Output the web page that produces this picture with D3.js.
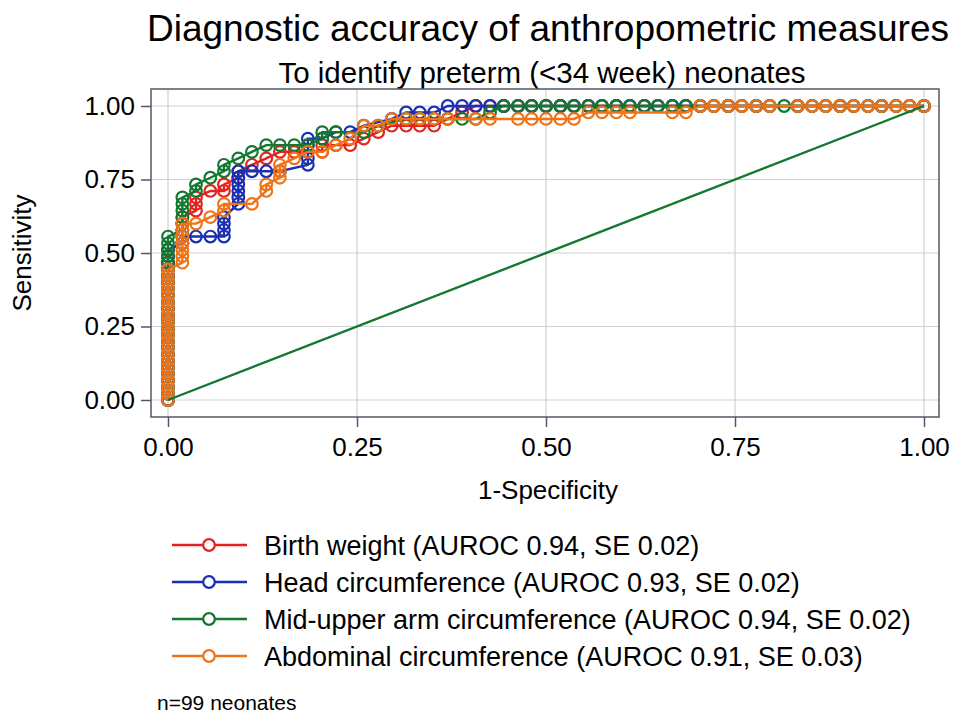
<!DOCTYPE html>
<html>
<head>
<meta charset="utf-8">
<script src="https://cdn.jsdelivr.net/npm/d3@7"></script>
<style>
  body { margin: 0; background: #fff; }
  svg { font-family: "Liberation Sans", Arial, sans-serif; }
</style>
</head>
<body>
<svg id="chart" width="957" height="717"></svg>
<script>
// ROC points [1-specificity, sensitivity]
const birthWeight = [
  [0,0],[0,.022],[0,.044],[0,.067],[0,.089],[0,.111],[0,.133],[0,.156],[0,.178],[0,.2],[0,.222],[0,.244],[0,.267],
  [0,.289],[0,.311],[0,.333],[0,.356],[0,.378],[0,.4],[0,.422],[0,.444],[0,.467],[0,.489],[0,.511],
  [.019,.533],[.019,.556],[.019,.578],[.019,.6],[.019,.622],[.037,.644],[.037,.667],[.037,.689],[.056,.711],
  [.074,.711],[.074,.733],[.093,.756],[.093,.778],[.111,.8],[.130,.822],[.148,.844],[.167,.844],[.185,.844],
  [.204,.844],[.204,.867],[.222,.867],[.241,.867],[.259,.889],[.278,.911],[.296,.933],[.315,.933],[.333,.933],
  [.352,.933],[.370,.956],[.389,.978],[.407,1],[.426,1],[.444,1],[.463,1],[.481,1],[.5,1],[.519,1],[.537,1],
  [.556,1],[.574,1],[.593,1],[.611,1],[.630,1],[.648,1],[.667,1],[.685,1],[.704,1],[.722,1],[.741,1],[.759,1],
  [.778,1],[.796,1],[.833,1],[.852,1],[.870,1],[.889,1],[.907,1],[.926,1],[.944,1],[.963,1],[.981,1],[1,1]
];
const headCirc = [
  [0,0],[0,.022],[0,.044],[0,.067],[0,.089],[0,.111],[0,.133],[0,.156],[0,.178],[0,.2],[0,.222],[0,.244],[0,.267],
  [0,.289],[0,.311],[0,.333],[0,.356],[0,.378],[0,.4],[0,.422],[0,.444],[0,.467],[0,.489],[0,.511],
  [.019,.533],[.019,.556],[.037,.556],[.056,.556],[.074,.556],[.074,.578],[.074,.6],[.074,.622],
  [.093,.667],[.093,.689],[.093,.711],[.093,.733],[.093,.756],[.093,.778],[.111,.778],[.130,.778],[.148,.778],
  [.185,.8],[.185,.822],[.185,.844],[.185,.867],[.185,.889],[.204,.889],[.222,.911],[.241,.911],[.259,.933],
  [.296,.956],[.315,.978],[.333,.978],[.352,.978],[.370,1],[.389,1],[.407,1],[.426,1],[.444,1],[.463,1],[.481,1],
  [.5,1],[.519,1],[.537,1],[.556,1],[.574,1],[.593,1],[.611,1],[.630,1],[.648,1],[.667,1],[.685,1],[.704,1],
  [.741,1],[.778,1],[.833,1],[.889,1],[.944,1],[1,1]
];
const muac = [
  [0,0],[0,.022],[0,.044],[0,.067],[0,.089],[0,.111],[0,.133],[0,.156],[0,.178],[0,.2],[0,.222],[0,.244],[0,.267],
  [0,.289],[0,.311],[0,.333],[0,.356],[0,.378],[0,.4],[0,.422],[0,.444],[0,.467],[0,.489],[0,.511],[0,.533],[0,.556],
  [.019,.578],[.019,.6],[.019,.622],[.019,.644],[.019,.667],[.019,.689],[.037,.711],[.037,.733],[.056,.756],
  [.074,.778],[.074,.8],[.093,.822],[.111,.844],[.130,.867],[.148,.867],[.167,.867],[.185,.867],[.204,.889],
  [.204,.911],[.222,.911],[.259,.911],[.278,.933],[.315,.956],[.333,.956],[.352,.956],[.370,.956],[.389,.956],
  [.407,.956],[.426,.978],[.444,1],[.463,1],[.481,1],[.5,1],[.519,1],[.537,1],[.556,1],[.574,1],[.593,1],
  [.611,1],[.630,1],[.648,1],[.667,1],[.685,1],[.704,1],[.722,1],[.741,1],[.759,1],[.778,1],[.796,1],[.815,1],
  [.833,1],[.852,1],[.870,1],[.889,1],[.907,1],[.926,1],[.944,1],[.963,1],[.981,1],[1,1]
];
const abdominal = [
  [0,0],[0,.022],[0,.044],[0,.067],[0,.089],[0,.111],[0,.133],[0,.156],[0,.178],[0,.2],[0,.222],[0,.244],[0,.267],
  [0,.289],[0,.311],[0,.333],[0,.356],[0,.378],[0,.4],[0,.422],[0,.444],
  [.019,.467],[.019,.489],[.019,.511],[.019,.533],[.019,.556],[.019,.578],[.019,.6],[.037,.6],[.056,.622],
  [.074,.644],[.074,.667],[.111,.667],[.130,.711],[.130,.733],[.148,.756],[.148,.778],[.148,.8],[.167,.822],
  [.185,.844],[.204,.844],[.222,.867],[.241,.889],[.259,.933],[.278,.933],[.296,.956],[.315,.956],[.333,.956],
  [.352,.956],[.370,.956],[.407,.956],[.426,.956],[.463,.956],[.481,.956],[.5,.956],[.519,.956],[.537,.956],
  [.556,.978],[.574,.978],[.593,.978],[.611,.978],[.667,.978],[.685,.978],[.704,1],[.722,1],[.741,1],[.759,1],
  [.778,1],[.796,1],[.833,1],[.852,1],[.870,1],[.889,1],[.907,1],[.926,1],[.944,1],[.963,1],[.981,1],[1,1]
];
const reference = [[0,0],[1,1]];

const seriesNames = [
  "Birth weight (AUROC 0.94, SE 0.02)",
  "Head circumference (AUROC 0.93, SE 0.02)",
  "Mid-upper arm circumference (AUROC 0.94, SE 0.02)",
  "Abdominal circumference (AUROC 0.91, SE 0.03)"
];
const seriesData = [birthWeight, headCirc, muac, abdominal];
const seriesColors = ["#e3231f", "#1a2fb4", "#12782f", "#ef7317"];
const ticks = [0, 0.25, 0.5, 0.75, 1];

const svg = d3.select("#chart");
const frame = {left: 151, right: 939, top: 89, bottom: 417};

const x = d3.scaleLinear().domain([0, 1]).range([168, 924]);
const y = d3.scaleLinear().domain([0, 1]).range([400, 106]);

// titles
svg.append("text").attr("x", 548).attr("y", 41).attr("text-anchor", "middle")
   .style("font-size", "37px").attr("fill", "#000")
   .text("Diagnostic accuracy of anthropometric measures");
svg.append("text").attr("x", 542).attr("y", 83).attr("text-anchor", "middle")
   .style("font-size", "29.5px").attr("fill", "#000")
   .text("To identify preterm (<34 week) neonates");

// grid
const grid = svg.append("g").attr("stroke", "#d0d0d0").attr("stroke-width", 1.2);
ticks.forEach(t => {
  grid.append("line").attr("x1", x(t)).attr("x2", x(t)).attr("y1", frame.top).attr("y2", frame.bottom);
  grid.append("line").attr("x1", frame.left).attr("x2", frame.right).attr("y1", y(t)).attr("y2", y(t));
});

// axes
const fmt = d3.format(".2f");
const xAxis = svg.append("g").attr("transform", `translate(0,${frame.bottom})`)
  .call(d3.axisBottom(x).tickValues(ticks).tickFormat(fmt).tickSize(10).tickPadding(11));
const yAxis = svg.append("g").attr("transform", `translate(${frame.left},0)`)
  .call(d3.axisLeft(y).tickValues(ticks).tickFormat(fmt).tickSize(10).tickPadding(6));
[xAxis, yAxis].forEach(a => {
  a.select(".domain").remove();
  a.selectAll(".tick line").attr("stroke", "#505a66").attr("stroke-width", 1.5);
  a.selectAll(".tick text").style("font-size", "26px").attr("fill", "#000")
   .style("font-family", "'Liberation Sans', Arial, sans-serif");
});

svg.append("rect").attr("x", frame.left).attr("y", frame.top)
   .attr("width", frame.right - frame.left).attr("height", frame.bottom - frame.top)
   .attr("fill", "none").attr("stroke", "#505a66").attr("stroke-width", 1.5);

svg.append("text").attr("x", 548).attr("y", 499).attr("text-anchor", "middle")
   .style("font-size", "26px").text("1-Specificity");
svg.append("text").attr("transform", "translate(31,253) rotate(-90)").attr("text-anchor", "middle")
   .style("font-size", "26px").text("Sensitivity");

// curves
const line = d3.line().x(d => x(d[0])).y(d => y(d[1]));
const plot = svg.append("g");
seriesData.forEach((s, i) => {
  const g = plot.append("g");
  g.append("path").datum(s).attr("d", line).attr("fill", "none")
   .attr("stroke", seriesColors[i]).attr("stroke-width", 2.4);
  g.selectAll("circle").data(s).join("circle")
   .attr("cx", d => x(d[0])).attr("cy", d => y(d[1])).attr("r", 5.8)
   .attr("fill", "none").attr("stroke", seriesColors[i]).attr("stroke-width", 2.2);
});
plot.append("path").datum(reference).attr("d", line).attr("fill", "none")
    .attr("stroke", "#12782f").attr("stroke-width", 2.4);

// legend
const legend = svg.append("g");
seriesNames.forEach((name, i) => {
  const ly = 545 + i * 37;
  legend.append("line").attr("x1", 172).attr("x2", 247).attr("y1", ly).attr("y2", ly)
    .attr("stroke", seriesColors[i]).attr("stroke-width", 2.4);
  legend.append("circle").attr("cx", 209).attr("cy", ly).attr("r", 5.8)
    .attr("fill", "#fff").attr("stroke", seriesColors[i]).attr("stroke-width", 2.2);
  legend.append("text").attr("x", 264).attr("y", ly + 9.5).style("font-size", "27px").text(name);
});

svg.append("text").attr("x", 157).attr("y", 710).style("font-size", "21px").text("n=99 neonates");
</script>
</body>
</html>
